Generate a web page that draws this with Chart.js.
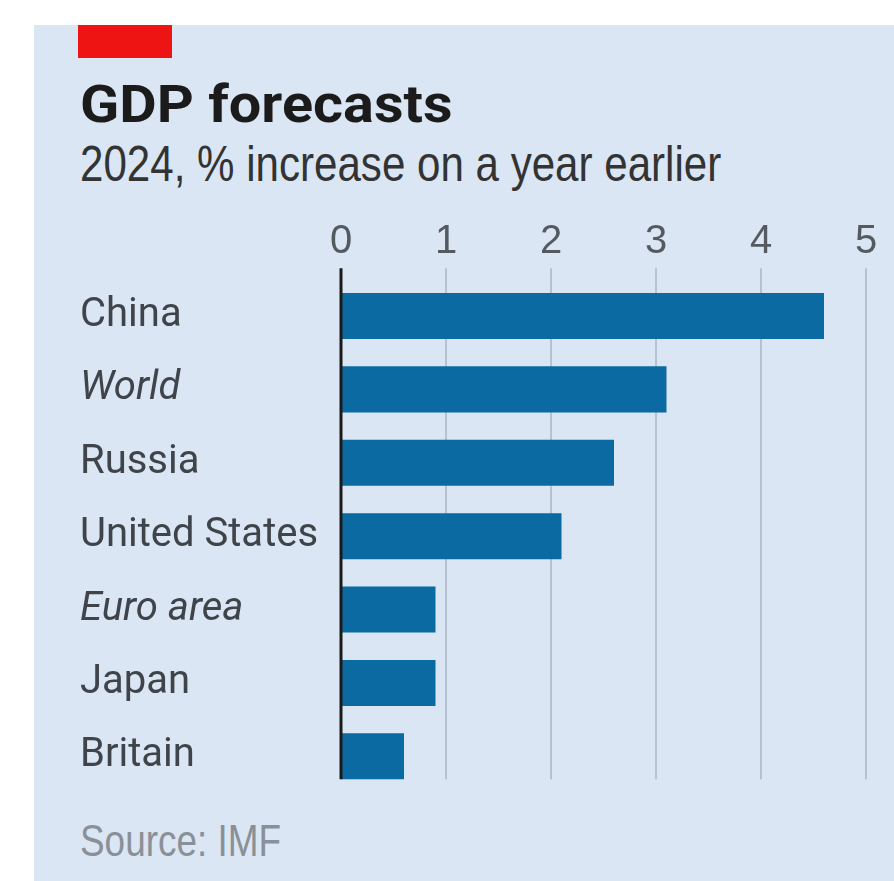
<!DOCTYPE html>
<html>
<head>
<meta charset="utf-8">
<script src="https://cdn.jsdelivr.net/npm/chart.js@4.4.1/dist/chart.umd.min.js"></script>
<style>
  body { margin: 0; background: #fff; width: 894px; height: 881px; overflow: hidden; position: relative; }
  #panel { position: absolute; left: 34px; top: 25px; right: 0; bottom: 0; background: #dae6f3; }
  #redbar { position: absolute; left: 78px; top: 25px; width: 94px; height: 33px; background: #ee1414; }
  .txt { position: absolute; left: 80px; line-height: 1; white-space: nowrap; transform-origin: 0 0; }
  #title { top: 75px; font: bold 51px Roboto, sans-serif; color: #1b1b1b; transform: scaleX(1.13); }
  #subtitle { top: 135px; font: 50px "Liberation Sans", sans-serif; color: #333; transform: scaleX(0.842); }
  #source { top: 815px; font: 45px "Liberation Sans", sans-serif; color: #8a9097; transform: scaleX(0.82); }
  canvas { position: absolute; left: 0; top: 0; }
</style>
</head>
<body>
<div id="panel"></div>
<div id="redbar"></div>
<div class="txt" id="title">GDP forecasts</div>
<div class="txt" id="subtitle">2024, % increase on a year earlier</div>
<div class="txt" id="source">Source: IMF</div>
<canvas id="chart" width="894" height="881"></canvas>
<script>
const countries = ['China', 'World', 'Russia', 'United States', 'Euro area', 'Japan', 'Britain'];
const italicRows = ['World', 'Euro area'];
const growth = [4.6, 3.1, 2.6, 2.1, 0.9, 0.9, 0.6];
const xTicks = [0, 1, 2, 3, 4, 5];

// grid lines stop at the last bar, zero line drawn on top of the bars
const gridLines = {
  id: 'gridLines',
  beforeDatasetsDraw(chart) {
    const { ctx, chartArea, scales: { x } } = chart;
    const bars = chart.getDatasetMeta(0).data;
    const last = bars[bars.length - 1];
    const bottom = last.y + last.height / 2;
    ctx.save();
    ctx.strokeStyle = '#b6c2d0';
    ctx.lineWidth = 2;
    xTicks.slice(1).forEach((v) => {
      const px = Math.round(x.getPixelForValue(v));
      ctx.beginPath();
      ctx.moveTo(px, chartArea.top - 11);
      ctx.lineTo(px, bottom);
      ctx.stroke();
    });
    ctx.restore();
  },
  afterDatasetsDraw(chart) {
    const { ctx, chartArea, scales: { x } } = chart;
    const bars = chart.getDatasetMeta(0).data;
    const last = bars[bars.length - 1];
    const px = x.getPixelForValue(0);
    ctx.save();
    ctx.strokeStyle = '#1a1a1a';
    ctx.lineWidth = 3;
    ctx.beginPath();
    ctx.moveTo(px, chartArea.top - 11);
    ctx.lineTo(px, last.y + last.height / 2);
    ctx.stroke();
    ctx.restore();
  }
};

new Chart(document.getElementById('chart'), {
  type: 'bar',
  data: {
    labels: countries,
    datasets: [{
      data: growth,
      backgroundColor: '#0b6aa2',
      categoryPercentage: 1,
      barPercentage: 0.627
    }]
  },
  options: {
    indexAxis: 'y',
    responsive: false,
    devicePixelRatio: 1,
    animation: false,
    layout: { padding: { left: 80, top: 200, right: 28, bottom: 88 } },
    plugins: { legend: { display: false }, tooltip: { enabled: false } },
    scales: {
      x: {
        position: 'top',
        min: 0,
        max: 5,
        afterFit(scale) { scale.height = 79.3; },
        afterBuildTicks(scale) { scale.ticks = xTicks.map((v) => ({ value: v })); },
        grid: { display: false, drawTicks: false },
        border: { display: false },
        ticks: {
          padding: 13,
          color: '#555a60',
          font: { family: '"Liberation Sans", sans-serif', size: 40 }
        }
      },
      y: {
        afterFit(scale) { scale.width = 261; },
        grid: { display: false, drawTicks: false },
        border: { display: false },
        ticks: {
          crossAlign: 'far',
          padding: 0,
          color: '#3f444a',
          font: (c) => ({
            family: 'Roboto, sans-serif',
            size: 40,
            style: italicRows.includes(countries[c.index]) ? 'italic' : 'normal'
          })
        }
      }
    }
  },
  plugins: [gridLines]
});
</script>
</body>
</html>
